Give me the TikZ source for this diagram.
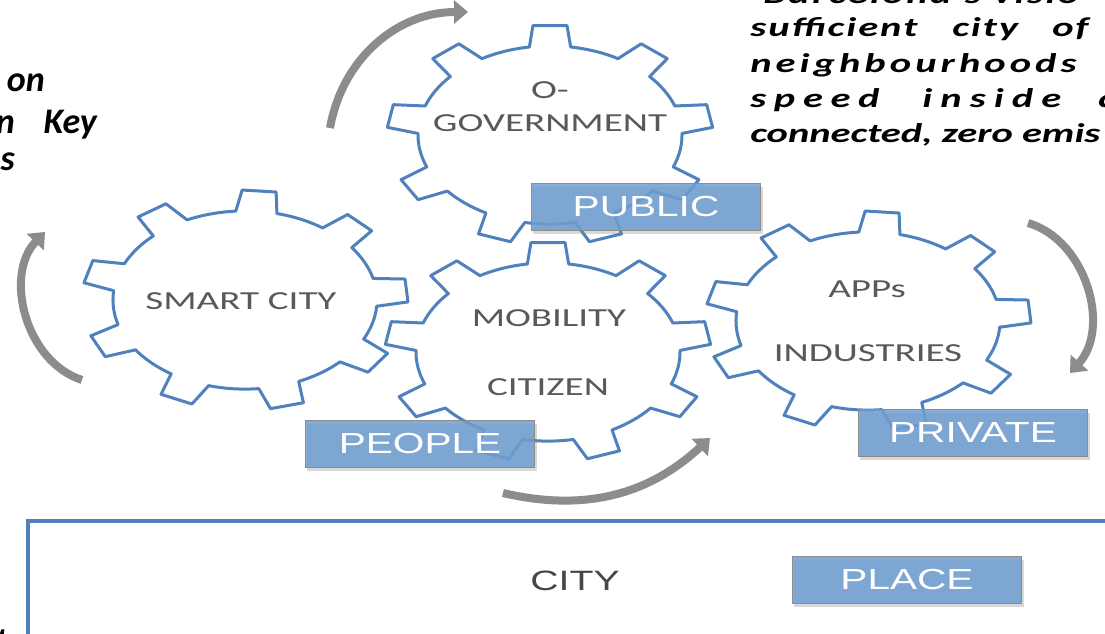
\documentclass[tikz,border=0pt]{standalone}
\usepackage{fontspec}
\setmainfont{Carlito}
\newfontfamily\tagfont{Liberation Sans}
\usetikzlibrary{arrows.meta,shadows}

\definecolor{gearblue}{RGB}{79,129,189}
\definecolor{tagblue}{RGB}{111,158,209}
\definecolor{arcgray}{RGB}{140,140,140}
\definecolor{inkgray}{RGB}{89,89,89}

\tikzset{
  gearline/.style={draw=gearblue, line width=3pt, line join=round},
  pics/gear/.style={code={
    \draw[gearline] (#1-9:0.81)
      \foreach \k in {0,...,8}{
        -- (#1+40*\k-6:1) -- (#1+40*\k+6:1) -- (#1+40*\k+9:0.81)
        arc[start angle=#1+40*\k+9, end angle=#1+40*\k+31, radius=0.81]
      } -- cycle;
  }},
  geartext/.style={font=\fontsize{26}{33}\selectfont, text=inkgray, xscale=1.5, align=center, inner sep=0pt},
  tagbox/.style={draw=arcgray, line width=1pt, fill=tagblue, fill opacity=0.85, text opacity=1,
    text=white, font=\tagfont\fontsize{29}{29}\selectfont, xscale=1.4,
    minimum width=164pt, minimum height=47pt,
    drop shadow={shadow xshift=2pt, shadow yshift=-3pt, opacity=0.3}},
  cycarrow/.style={draw=arcgray, line width=8pt, -{Triangle[width=23pt,length=14pt]}},
  note/.style={font={\fontsize{27}{27}\selectfont\bfseries\itshape\addfontfeature{LetterSpace=#1}},
    xscale=1.5, anchor=base west, inner sep=0pt},
  note/.default=0,
  sidenote/.style={font=\fontsize{36}{36}\selectfont\bfseries\itshape, anchor=base east, inner sep=0pt}
}

\begin{document}
\begin{tikzpicture}[x=1pt, y=1pt]

\path[fill=white, use as bounding box] (0,0) rectangle (1105,-634);

\begin{scope}
  \pic[xscale=163, yscale=110] at (550,-135) {gear=90};
  \pic[xscale=163, yscale=110] at (245,-300) {gear=85};
  \pic[xscale=163, yscale=110] at (548,-352) {gear=90};
  \pic[xscale=163, yscale=110] at (868,-321) {gear=85};

  \node[geartext] (gov)      at (550,-107) {O-\\GOVERNMENT};
  \node[geartext] (smart)    at (241,-301) {SMART CITY};
  \node[geartext] (mobility) at (549,-318) {MOBILITY};
  \node[geartext] (citizen)  at (548,-387) {CITIZEN};
  \node[geartext] (apps)     at (867,-289) {APPs};
  \node[geartext] (industry) at (868,-353) {INDUSTRIES};
\end{scope}

\draw[gearblue, line width=3.5pt] (28,-660) |- (1120,-521);
\node[font=\tagfont\fontsize{28}{28}\selectfont, text=inkgray!80!black, xscale=1.4] (city) at (575,-581) {CITY};

\node[tagbox] (public)  at (646,-207) {PUBLIC};
\node[tagbox] (people)  at (420,-444) {PEOPLE};
\node[tagbox] (private) at (973,-433) {PRIVATE};
\node[tagbox] (place)   at (907,-580) {PLACE};

\coordinate (govtail)   at (330,-128);
\coordinate (govhead)   at (468,-12);
\coordinate (smarttail) at (82,-380);
\coordinate (smarthead) at (45,-232);
\coordinate (mobtail)   at (503,-493);
\coordinate (mobhead)   at (710,-438);
\coordinate (appstail)  at (1028,-223);
\coordinate (appshead)  at (1070,-373);

\draw[cycarrow] (govtail) to[bend left=40] (govhead);
\draw[cycarrow] (smarttail) to[bend left=58] (smarthead);
\draw[cycarrow] (mobtail) to[bend right=28] (mobhead);
\draw[cycarrow] (appstail) to[bend left=58] (appshead);

\node[note=6]  (vision0) at (763,-4) {Barcelona’s};
\node[note=6]  (vision1) at (993,-4) {visio};
\node[note=5]  (suff)    at (750,-37) {sufficient};
\node[note=5]  (cityof)  at (952,-37) {city};
\node[note=5]  (of)      at (1052,-37) {of};
\node[note=10] (neigh)   at (750,-72) {neighbourhoods};
\node[note=19] (speed)   at (750,-107) {speed};
\node[note=20] (inside)  at (922,-107) {inside};
\node[note]    (inside2) at (1098,-107) {a};
\node[note]    (zero)    at (750,-142) {connected, zero emis};

\node[sidenote] (side0) at (45,-92) {on};
\node[sidenote] (side1) at (15,-133) {n};
\node[sidenote] (side2) at (97,-133) {Key};
\node[sidenote] (side3) at (15,-170) {s};
\node[sidenote] (side4) at (8,-652) {t};

\end{tikzpicture}
\end{document}
